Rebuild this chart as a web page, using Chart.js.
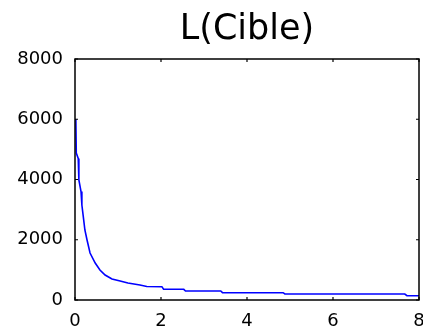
<!DOCTYPE html>
<html>
<head>
<meta charset="utf-8">
<script src="https://cdn.jsdelivr.net/npm/chart.js@4/dist/chart.umd.min.js"></script>
<style>
  html, body { margin: 0; padding: 0; background: #fff; overflow: hidden; }
  #wrap { width: 423px; height: 332px; position: relative; }
</style>
</head>
<body>
<div id="wrap"><canvas id="myChart"></canvas></div>
<script>
// values
const titleText = 'L(Cible)';
const xValues = [0, 0.02, 0.03, 0.075, 0.09, 0.14, 0.16, 0.19, 0.23, 0.28, 0.35, 0.47, 0.58, 0.70, 0.86, 1.05, 1.23, 1.51, 1.67, 2.02, 2.06, 2.53, 2.57, 3.39, 3.43, 4.84, 4.88, 7.67, 7.72, 8];
const lValues = [6000, 5975, 4880, 4700, 3983, 3600, 3154, 2800, 2324, 1992, 1560, 1228, 996, 830, 697, 631, 564, 498, 450, 442, 355, 355, 299, 299, 243, 243, 199, 199, 143, 143];
const xTicks = [0, 2, 4, 6, 8];
const yTicks = [0, 2000, 4000, 6000, 8000];

const points = xValues.map((x, i) => ({ x: x, y: lValues[i] }));

// box around the plot + small inward ticks on all four sides
const boxTicks = {
  id: 'boxTicks',
  afterDraw(chart) {
    const c = chart.ctx;
    const a = chart.chartArea;
    const sx = chart.scales.x;
    const sy = chart.scales.y;
    const len = 3;
    c.save();
    c.strokeStyle = '#000';
    c.lineWidth = 1.5;
    c.strokeRect(a.left, a.top, a.right - a.left, a.bottom - a.top);
    c.lineWidth = 1.2;
    c.beginPath();
    xTicks.forEach(v => {
      const px = sx.getPixelForValue(v);
      c.moveTo(px, a.bottom); c.lineTo(px, a.bottom - len);
      c.moveTo(px, a.top); c.lineTo(px, a.top + len);
    });
    yTicks.forEach(v => {
      const py = sy.getPixelForValue(v);
      c.moveTo(a.left, py); c.lineTo(a.left + len, py);
      c.moveTo(a.right, py); c.lineTo(a.right - len, py);
    });
    c.stroke();
    c.restore();
  }
};

const ctx = document.getElementById('myChart');
const myChart = new Chart(ctx, {
  type: 'line',
  data: {
    datasets: [{
      data: points,
      borderColor: '#0000ff',
      borderWidth: 1.6,
      pointRadius: 0,
      tension: 0,
      fill: false
    }]
  },
  options: {
    responsive: true,
    maintainAspectRatio: false,
    animation: false,
    layout: { padding: { left: 0, right: 4, top: 0, bottom: 0 } },
    plugins: {
      legend: { display: false },
      tooltip: { enabled: false },
      title: {
        display: true,
        text: titleText,
        fullSize: false,
        color: '#000',
        font: { family: 'DejaVu Sans', size: 35, weight: 'normal' },
        padding: { top: 9, bottom: 8 }
      }
    },
    scales: {
      x: {
        type: 'linear',
        min: 0,
        max: 8,
        afterBuildTicks: s => { s.ticks = xTicks.map(v => ({ value: v })); },
        ticks: {
          color: '#000',
          padding: 11,
          maxRotation: 0,
          font: { family: 'DejaVu Sans', size: 18 }
        },
        grid: { display: false, drawTicks: false },
        border: { display: false },
        afterFit: s => { s.paddingLeft = 0; s.paddingRight = 0; s.height = 32; }
      },
      y: {
        type: 'linear',
        min: 0,
        max: 8000,
        afterBuildTicks: s => { s.ticks = yTicks.map(v => ({ value: v })); },
        ticks: {
          color: '#000',
          padding: 12,
          font: { family: 'DejaVu Sans', size: 18 },
          callback: v => String(v)
        },
        grid: { display: false, drawTicks: false },
        border: { display: false },
        afterFit: s => { s.width = 75; }
      }
    }
  },
  plugins: [boxTicks]
});
</script>
</body>
</html>
